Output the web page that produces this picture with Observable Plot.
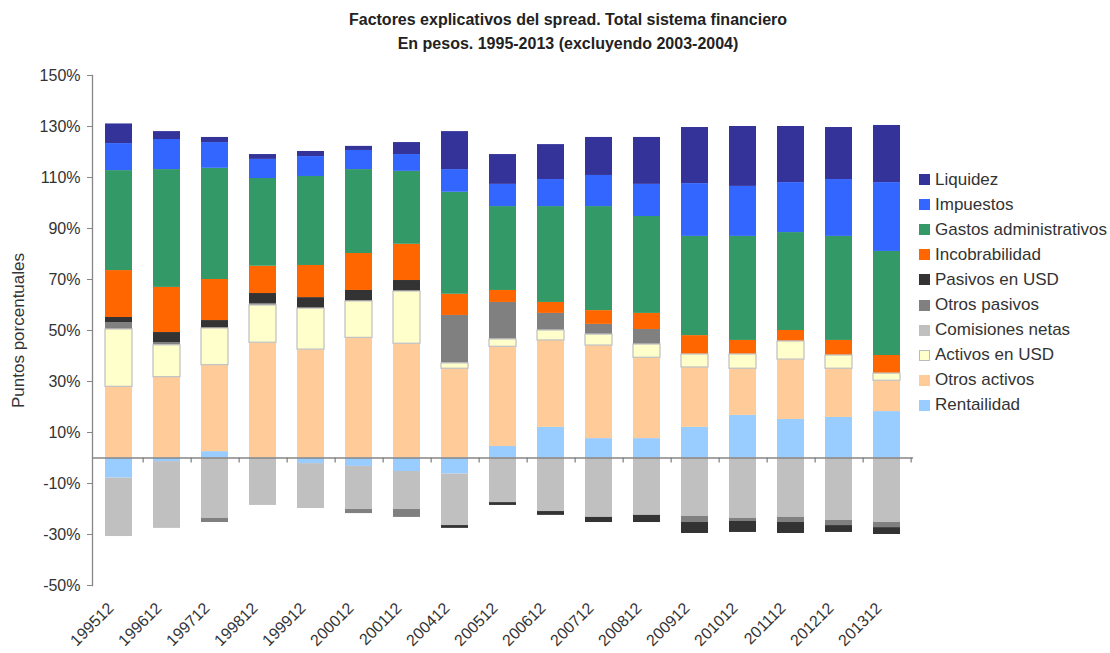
<!DOCTYPE html>
<html><head><meta charset="utf-8">
<script src="https://cdn.jsdelivr.net/npm/d3@7"></script>
<script src="https://cdn.jsdelivr.net/npm/@observablehq/plot@0.6"></script>
<style>
body{margin:0;background:#fff;font-family:"Liberation Sans",Arial,sans-serif;}
#wrap{position:relative;width:1110px;height:653px;overflow:hidden;background:#fff;}
#title{position:absolute;left:26px;width:1084px;top:8px;text-align:center;font-weight:bold;font-size:16px;line-height:24px;color:#222;}
#chart{position:absolute;left:0;top:60px;}
#legend{position:absolute;left:919px;top:167px;}
.item{display:flex;align-items:center;height:25.1px;font-size:17px;color:#333;white-space:nowrap;}
.sw{width:11px;height:11px;margin-right:5px;box-sizing:border-box;}
</style></head>
<body>
<div id="wrap">
<div id="title">Factores explicativos del spread. Total sistema financiero<br>En pesos. 1995-2013 (excluyendo 2003-2004)</div>
<div id="chart"></div>
<div id="legend"></div>
</div>
<script>
const categories = ["199512","199612","199712","199812","199912","200012","200112","200412","200512","200612","200712","200812","200912","201012","201112","201212","201312"];

const rentailidad    = [-7.9, -1.4, 2.5, 0, -2.2, -3.3, -5.3, -6.3, 4.5, 12.0, 7.6, 7.6, 12.0, 16.7, 15.1, 15.9, 18.2];
const otrosActivos   = [27.9, 31.7, 33.9, 45.2, 42.5, 47.1, 44.8, 35.0, 39.1, 34.1, 36.5, 31.7, 23.5, 18.3, 23.5, 19.1, 12.1];
const activosUSD     = [22.5, 12.5, 14.4, 14.6, 16.1, 14.3, 20.5, 2.1, 2.9, 3.9, 4.3, 5.2, 5.1, 5.6, 7.1, 5.2, 2.8];
const comisiones     = [-22.9, -26.2, -23.7, -18.6, -17.6, -16.9, -14.9, -20.2, -17.5, -21.0, -23.3, -22.5, -22.9, -23.7, -23.3, -24.5, -25.3];
const otrosPasivos   = [2.7, 1.1, -1.6, 0.8, 0, -1.6, -3.1, 18.8, 14.5, 6.7, 4.0, 5.9, -2.4, -1.2, -2.0, -2.0, -2.0];
const pasivosUSD     = [2.0, 3.9, 3.1, 3.9, 4.3, 4.3, 4.3, -1.1, -1.1, -1.5, -2.0, -2.8, -4.3, -4.3, -4.3, -2.7, -2.7];
const incobrabilidad = [18.4, 17.7, 16.1, 10.7, 12.6, 14.5, 14.2, 8.3, 4.7, 4.3, 5.4, 6.3, 7.4, 5.5, 4.3, 5.9, 7.1];
const gastos         = [39.2, 46.2, 43.6, 34.4, 34.9, 32.9, 28.6, 40.0, 32.9, 37.6, 40.8, 38.0, 38.9, 40.8, 38.4, 40.8, 40.8];
const impuestos      = [10.6, 11.8, 10.1, 7.5, 7.8, 7.5, 6.6, 8.9, 8.7, 10.6, 12.2, 12.6, 20.7, 19.6, 19.6, 22.3, 27.0];
const liquidez       = [7.7, 3.1, 2.0, 1.9, 2.0, 1.6, 4.7, 14.9, 11.7, 13.7, 14.9, 18.4, 22.0, 23.5, 22.0, 20.4, 22.4];

const seriesNames  = ["Rentailidad","Otros activos","Activos en USD","Comisiones netas","Otros pasivos","Pasivos en USD","Incobrabilidad","Gastos administrativos","Impuestos","Liquidez"];
const seriesValues = [rentailidad, otrosActivos, activosUSD, comisiones, otrosPasivos, pasivosUSD, incobrabilidad, gastos, impuestos, liquidez];
const seriesColors = ["#99CCFF","#FFCC99","#FFFFCC","#C0C0C0","#808080","#333333","#FF6600","#339966","#3366FF","#333399"];
const yTicks = [150,130,110,90,70,50,30,10,-10,-30,-50];

const rows = [];
seriesNames.forEach((s, si) => {
  categories.forEach((c, ci) => rows.push({cat: c, series: s, value: seriesValues[si][ci]}));
});

const step = (913 - 92) / categories.length;
const axisGray = "#868686";

const chart = Plot.plot({
  width: 1110, height: 593,
  marginLeft: 92, marginRight: 197, marginTop: 15, marginBottom: 68,
  style: {fontFamily: "Liberation Sans, Arial, sans-serif", fontSize: "16px", color: "#333", background: "#fff"},
  x: {domain: categories, paddingInner: 0.44, paddingOuter: 0.22, label: null},
  y: {domain: [-50, 150], label: null},
  color: {domain: seriesNames, range: seriesColors},
  marks: [
    Plot.barY(rows, {x: "cat", y: "value", fill: "series", insetTop: 0, insetBottom: 0}),
    Plot.barY(rows, {x: "cat", y: "value", fill: "none", stroke: "#c4c4c4", strokeWidth: 1.3,
      strokeOpacity: d => d.series === "Activos en USD" ? 1 : 0, insetTop: 0, insetBottom: 0}),
    Plot.ruleY([0], {stroke: axisGray, strokeWidth: 1.5}),
    Plot.ruleX(categories, {x: d => d, y1: 0, y2: -2, dx: step / 2, stroke: axisGray, strokeWidth: 1.3}),
    Plot.frame({anchor: "left", stroke: axisGray, strokeWidth: 1.3}),
    Plot.axisY({ticks: yTicks, tickFormat: d => d + "%", tickSize: 5, tickPadding: 7, label: null, stroke: axisGray, fill: "#333", fontSize: 16}),
    Plot.axisX({tickRotate: -45, tickSize: 0, tickPadding: 20, label: null, dx: -8, fill: "#333", fontSize: 16}),
    Plot.text(["Puntos porcentuales"], {frameAnchor: "left", textAnchor: "middle", dx: -74, rotate: -90, fontSize: 17, fill: "#333"})
  ]
});
document.getElementById("chart").appendChild(chart);

const legend = document.getElementById("legend");
for (let i = seriesNames.length - 1; i >= 0; i--) {
  const item = document.createElement("div");
  item.className = "item";
  const sw = document.createElement("div");
  sw.className = "sw";
  sw.style.background = seriesColors[i];
  if (seriesNames[i] === "Activos en USD") sw.style.border = "1px solid #bbb";
  const tx = document.createElement("span");
  tx.textContent = seriesNames[i];
  item.appendChild(sw); item.appendChild(tx);
  legend.appendChild(item);
}
</script>
</body></html>
